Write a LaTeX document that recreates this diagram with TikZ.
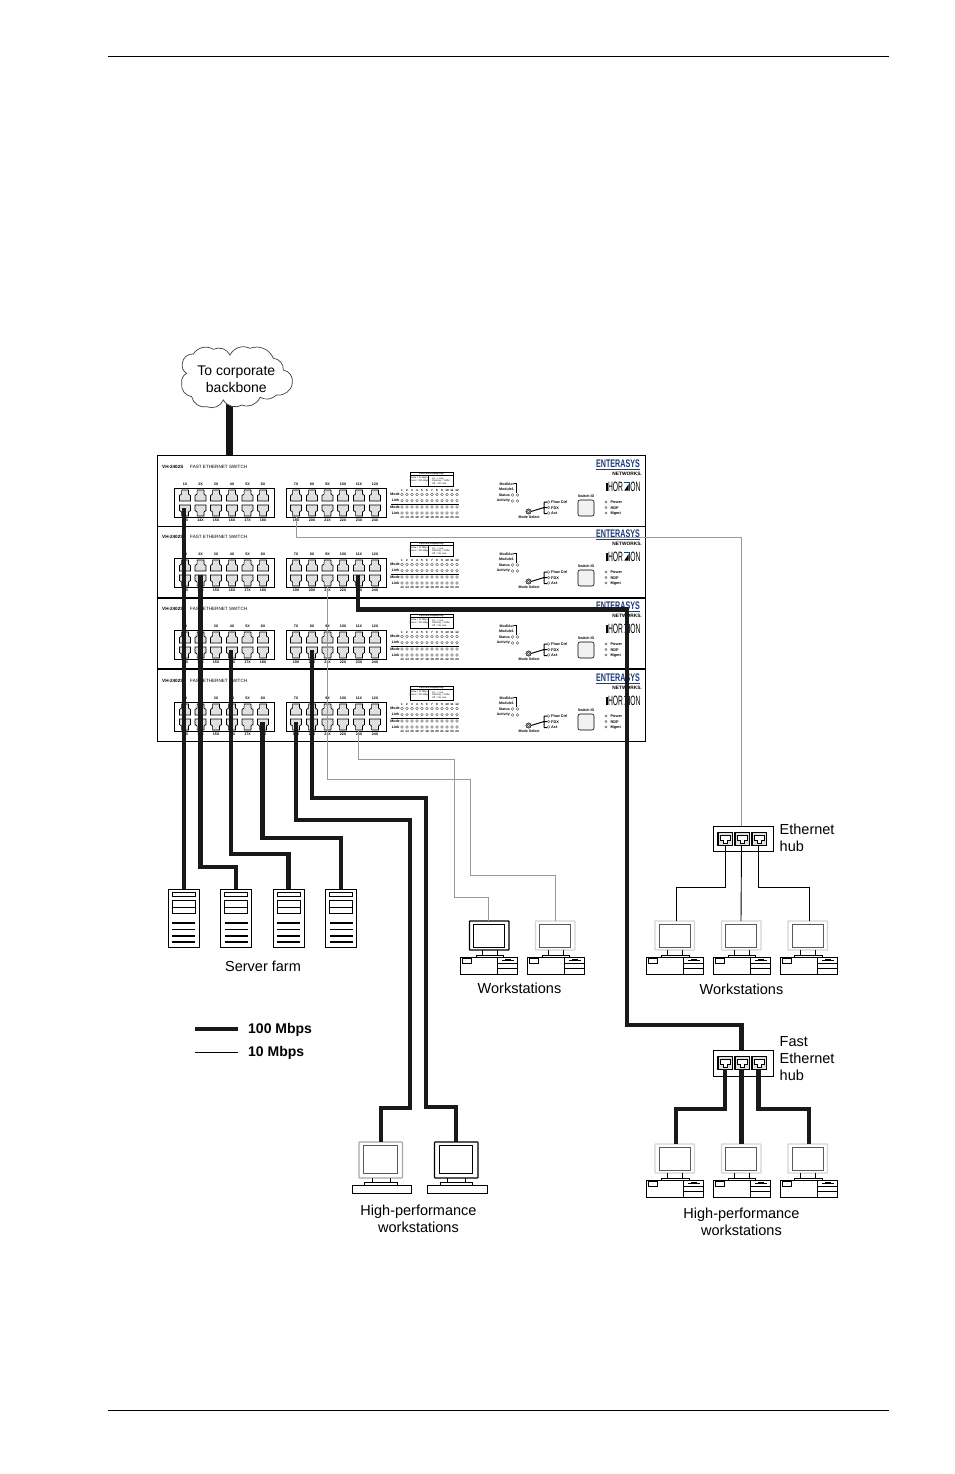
\documentclass[tikz,border=0pt]{standalone}
\usepackage{fontspec}
\setmainfont{Liberation Sans}
\definecolor{logoblue}{HTML}{1B3A7A}
\definecolor{portgrey}{HTML}{E0E0E0}
\definecolor{linkgrey}{HTML}{9A9A9A}
\definecolor{palegrey}{HTML}{D4D4D4}
\tikzset{
  fast/.style={line width=4.4pt,black!90,line join=miter},
  slow/.style={line width=0.9pt,black},
  faint/.style={line width=0.9pt,linkgrey},
  caption/.style={inner sep=0pt,font=\fontsize{14.5}{17}\selectfont,align=center},
  legendtext/.style={inner sep=0pt,anchor=west,font=\fontsize{14}{16}\bfseries\selectfont},
  tiny/.style={inner sep=0pt,font=\fontsize{3.6}{4}\bfseries\selectfont},
  unitlabel/.style={inner sep=0pt,anchor=west,font=\fontsize{4.6}{5}\bfseries\selectfont},
  led/.style={line width=0.35pt,black!70,fill=white},
  portbody/.style={line width=0.7pt,fill=portgrey},
}
% One RJ-45 opening: #1 = centre x, #2 = top y, #3 = 1 for notch up, -1 for notch down
\newcommand{\rjport}[3]{%
  \begin{scope}[shift={(#1,#2+5.5)},yscale=#3]
    \draw[portbody] (-5.5,5.5) -- (-5.5,0) -- (-3.4,-1.5) -- (-3.4,-5.5) -- (3.4,-5.5) -- (3.4,-1.5) -- (5.5,0) -- (5.5,5.5) -- cycle;
  \end{scope}}
% One stacked switch: #1 = name, #2 = y offset of the contents
\newcommand{\switchunit}[2]{%
  \begin{scope}[shift={(0,#2)}]
    \node[unitlabel] (#1model) at (162,467) {VH-2402S};
    \node[unitlabel,font=\fontsize{4.6}{5}\selectfont] (#1title) at (190,467) {FAST ETHERNET SWITCH};
    \draw[line width=0.7pt] (174,488) rectangle (274,517) (286,488) rectangle (386,517);
    \foreach \n/\x/\lbl [count=\k] in {a/185/1X,b/200.5/2X,c/216/3X,d/232/4X,e/247.5/5X,f/263/6X,g/296/7X,h/312/8X,i/327.5/9X,j/343/10X,k/359/11X,l/375/12X}{
      \rjport{\x}{490}{1}
      \node[tiny] (#1up\n) at (\x,484.6) {\lbl};
    }
    \foreach \n/\x/\lbl in {a/185/13X,b/200.5/14X,c/216/15X,d/232/16X,e/247.5/17X,f/263/18X,g/296/19X,h/312/20X,i/327.5/21X,j/343/22X,k/359/23X,l/375/24X}{
      \rjport{\x}{505}{-1}
      \node[tiny] (#1dn\n) at (\x,520.4) {\lbl};
    }
    % key to the port indicators
    \draw[line width=0.7pt] (410,472) rectangle (453,486);
    \draw[line width=0.4pt] (410,475.5) -- (453,475.5) (428.5,475.5) -- (428.5,486);
    \node[inner sep=0pt,font=\fontsize{2.4}{3}\bfseries\selectfont] (#1keyhead) at (431.5,473.8) {Port LED Display Key};
    \node[inner sep=0pt,align=left,font=\fontsize{2.3}{2.8}\selectfont] (#1keya) at (419.2,479.5) {Yellow = 10 Mbps\\Green = 100 Mbps};
    \node[inner sep=0pt,align=left,font=\fontsize{2.3}{2.8}\selectfont] (#1keyb) at (441,481) {On \ \ = Link\\Flashing = Traffic\\Off \ = No Link};
    % indicator rows
    \node[tiny] (#1rowa) at (395,494.5) {Mode};
    \node[tiny] (#1rowb) at (395.6,500.6) {Link};
    \node[tiny] (#1rowc) at (395,507) {Mode};
    \node[tiny] (#1rowd) at (395.6,513) {Link};
    \draw[line width=0.9pt] (391,504) -- (459,504);
    \foreach \t [count=\c] in {1,...,12}{
      \pgfmathsetmacro{\xx}{397+5*\c}
      \node[inner sep=0pt,font=\fontsize{3}{4}\bfseries\selectfont] (#1top\c) at (\xx,490.6) {\t};
      \pgfmathtruncatemacro{\bt}{\t+12}
      \node[inner sep=0pt,font=\fontsize{3}{4}\bfseries\selectfont] (#1bot\c) at (\xx,517.2) {\bt};
      \foreach \yy in {494.5,500.6,507,513}{\draw[led] (\xx,\yy) circle (1.3);}
    }
    % module status block
    \node[tiny,anchor=east] (#1mact) at (514,484) {Mod/Act};
    \node[tiny,anchor=east] (#1mone) at (514,489) {Module1};
    \draw[line width=1pt] (514,483) -- (516.8,483) -- (516.8,493);
    \node[tiny,anchor=east] (#1stat) at (510,495) {Status};
    \node[tiny,anchor=east] (#1actv) at (510,501) {Activity};
    \foreach \yy in {495,501}{\draw[led] (512.5,\yy) circle (1.3) (517.5,\yy) circle (1.3);}
    % mode selector
    \draw[line width=1pt] (531,511.5) -- (544,507.5) (544,502) -- (544,513.5) (544,502) -- (547,502) (544,507.5) -- (547,507.5) (544,513.5) -- (547,513.5);
    \draw[line width=0.5pt,fill=black!30] (528.5,511.5) circle (2.6);
    \draw[led,fill=white] (528.5,511.5) circle (1.2);
    \node[tiny] (#1msel) at (529,517.5) {Mode Select};
    \foreach \yy in {502,507.5,513}{\draw[led] (548.5,\yy) circle (1.3);}
    \node[unitlabel,font=\fontsize{3.8}{4}\bfseries\selectfont] (#1flow) at (551,502) {Flow Ctrl};
    \node[unitlabel,font=\fontsize{3.8}{4}\bfseries\selectfont] (#1fdx) at (551,507.7) {FDX};
    \node[unitlabel,font=\fontsize{3.8}{4}\bfseries\selectfont] (#1act) at (551,513.2) {Act};
    % switch id window
    \node[tiny] (#1swid) at (586,496) {Switch ID};
    \draw[line width=0.6pt,rounded corners=2pt,fill=black!5] (578,500) rectangle (594,516);
    % system indicators
    \foreach \yy in {502,507.5,513}{\draw[led] (606,\yy) circle (1.2);}
    \node[unitlabel,font=\fontsize{3.8}{4}\bfseries\selectfont] (#1pwr) at (610.5,502) {Power};
    \node[unitlabel,font=\fontsize{3.8}{4}\bfseries\selectfont] (#1rdp) at (610.5,507.7) {RDP};
    \node[unitlabel,font=\fontsize{3.8}{4}\bfseries\selectfont] (#1mgt) at (610.5,513.2) {Mgmt};
    % maker and product marks
    \node[inner sep=0pt,anchor=east,xscale=.65,text=logoblue,font=\fontsize{11}{12}\bfseries\selectfont] (#1brand) at (640,464) {ENTERASYS};
    \draw[logoblue,line width=0.9pt] (596,469) -- (640,469);
    \node[inner sep=0pt,anchor=east,font=\fontsize{4.8}{5}\bfseries\selectfont] (#1net) at (642,473.4) {NETWORKS.};
    \draw[line width=0.25pt] (606,483) -- (606,491) (607,483) -- (607,491);
    \node[inner sep=0pt,anchor=west,xscale=.5,font=\fontsize{13.5}{14}\selectfont] (#1hor) at (608,487) {HOR};
    \fill[logoblue] (623.5,482.2) rectangle (629.5,491.4);
    \fill[white] (624.3,483) rectangle (628.7,490.6);
    \fill[black] (624.3,490.6) -- (628.7,490.6) -- (628.7,484) -- cycle;
    \node[inner sep=0pt,anchor=west,xscale=.5,font=\fontsize{13.5}{14}\selectfont] (#1on) at (630.2,487) {ON};
  \end{scope}}
% One server tower: #1 = left x
\newcommand{\servertower}[1]{%
  \begin{scope}[shift={(#1,889)}]
    \draw[line width=0.9pt,fill=white] (0,0) rectangle (31,58);
    \draw[line width=0.8pt] (4,3) rectangle (27,7.2);
    \draw[line width=0.8pt] (4,11.5) rectangle (27,24) (4,18) -- (27,18);
    \foreach \yy/\w in {34/1.9,40.5/1.9,47/1.9,53/2.8}{\draw[line width=\w pt] (4,\yy) -- (27,\yy);}
  \end{scope}}
% Monitor on a stand: #1 = left x, #2 = top y, #3 = frame colour, #4 = screen edge colour
\newcommand{\monitorset}[4]{%
  \begin{scope}[shift={(#1,#2)}]
    \draw[line width=1.3pt,#3,fill=white,rounded corners=0.6pt] (0,0) rectangle (39.5,29);
    \draw[line width=0.8pt,#4] (4.3,3.4) rectangle (35,26.5);
    \draw[line width=0.7pt] (12.5,29) -- (12.5,34) (27.5,29) -- (27.5,34);
    \draw[line width=0.8pt,fill=white] (6.5,34) rectangle (34,36);
  \end{scope}}
% Desktop base unit: #1 = left x, #2 = top y
\newcommand{\desktopbase}[2]{%
  \begin{scope}[shift={(#1,#2)}]
    \draw[line width=0.8pt,fill=white] (0,0) rectangle (57,17.5);
    \draw[line width=0.7pt] (2.3,1.6) rectangle (11.3,6.3);
    \draw[line width=0.7pt] (37.5,0) -- (37.5,17.5) (37.5,6.7) -- (57,6.7) (37.5,11.2) -- (57,11.2);
    \draw[line width=1pt] (42,3.7) -- (54,3.7);
    \draw[line width=0.5pt] (45,2.6) -- (51,2.6);
  \end{scope}}
% Tall monitor with flat keyboard tray: #1 = tray left x, #2 = frame colour, #3 = screen edge colour
\newcommand{\flatstation}[3]{%
  \begin{scope}[shift={(#1,1142)}]
    \draw[line width=1.1pt,#2,fill=white,rounded corners=0.6pt] (7,0) rectangle (50.5,36);
    \draw[line width=0.8pt,#3] (11.7,3.7) rectangle (45.3,31.7);
    \draw[line width=0.7pt] (20,36) -- (20,40) (38,36) -- (38,40);
    \draw[line width=0.8pt,fill=white] (12.5,40) rectangle (45,43);
    \draw[line width=0.8pt,fill=white] (0,43) rectangle (59.5,51);
  \end{scope}}
% Hub body with three jacks: #1 = top y, #2 = name, #3 = body height
\newcommand{\hubbody}[3]{%
  \begin{scope}[shift={(713,#1)}]
    \draw[line width=0.9pt,fill=white] (0.5,0) rectangle (60.5,#3);
    \foreach \x in {5,22,39}{
      \draw[line width=1.3pt,fill=portgrey] (\x,6.5) rectangle ++(14.5,13);
      \draw[line width=0.5pt,fill=white] (\x+2.5,9) -- ++(9.5,0) -- ++(0,5.5) -- ++(-2.5,0) -- ++(0,2.5) -- ++(-4.5,0) -- ++(0,-2.5) -- ++(-2.5,0) -- cycle;
    }
  \end{scope}
  \coordinate (#2a) at (725,#1+19);
  \coordinate (#2b) at (741.5,#1+19);
  \coordinate (#2c) at (758.5,#1+19);
  \coordinate (#2top) at (741.5,#1);}
\begin{document}
\begin{tikzpicture}[x=1pt,y=-1pt]
\useasboundingbox (0,0) rectangle (954,1474);
\fill[white] (0,0) rectangle (954,1474);

% page rules
\coordinate (ruleAl) at (108,56); \coordinate (ruleAr) at (889,56);
\coordinate (ruleBl) at (108,1410); \coordinate (ruleBr) at (889,1410);
\draw[line width=0.9pt] (ruleAl) -- (ruleAr);
\draw[line width=0.9pt] (ruleBl) -- (ruleBr);

% switch stack
\draw[line width=1pt,fill=white] (157.5,455) rectangle (645.5,741);
\draw[line width=0.9pt] (157.5,526.5) -- (645.5,526.5);
\draw[line width=2.2pt] (157.5,598) -- (645.5,598);
\draw[line width=1.2pt] (157.5,669) -- (645.5,669);
\switchunit{s}{0}
\switchunit{t}{70}
\switchunit{u}{142}
\switchunit{v}{214}

% uplink and the cloud it rises into
\coordinate (uplinkTop) at (229.5,403);
\coordinate (uplink) at (229.5,455);
\draw[line width=6.2pt,black!92] (uplinkTop) -- (uplink);
\begin{scope}[shift={(170,340)},x=0.3333pt,y=-0.3333pt]
  \draw[line width=0.7pt,black!75,fill=white]
    (37,70) to[bend left=45] (70,42) to[bend left=45] (130,28)
    to[bend left=45] (180,45) to[bend left=45] (240,25)
    to[bend left=45] (310,55) to[bend left=45] (340,90)
    to[bend left=45] (367,130) to[bend left=45] (320,165)
    to[bend left=35] (270,172) to[bend left=45] (215,195)
    to[bend left=45] (160,180) to[bend left=45] (110,200)
    to[bend left=45] (65,170) to[bend left=45] (35,130)
    to[bend left=35] (50,100) to[bend left=35] cycle;
\end{scope}
\node[caption,font=\fontsize{14}{16.6}\selectfont] (cloudtext) at (236.3,379.5) {To corporate\\backbone};

% cable end points
\coordinate (p1) at (184,508);
\coordinate (p2) at (200.5,575);
\coordinate (p3) at (231,650);
\coordinate (p4) at (262.5,722);
\coordinate (p5) at (296,722);
\coordinate (p6) at (312,650);
\coordinate (p7) at (358,575);
\coordinate (g1) at (296,516);
\coordinate (g2) at (327,585);
\coordinate (g3) at (358,729);

% servers
\servertower{168}
\servertower{220.5}
\servertower{273}
\servertower{325.5}
\coordinate (srv1) at (184,889);
\coordinate (srv2) at (236,889);
\coordinate (srv3) at (288.5,889);
\coordinate (srv4) at (341,889);
\node[caption] (srvlabel) at (263,966) {Server farm};

% workstations below the switch
\monitorset{469.5}{921}{black}{black}
\monitorset{535.5}{921}{palegrey}{black!65}
\desktopbase{460}{957}
\desktopbase{527}{957}
\coordinate (wsA) at (488,921);
\coordinate (wsB) at (555,921);
\node[caption] (wslabelA) at (519.5,988) {Workstations};

% workstations under the Ethernet hub
\foreach \x in {655,721.5,788}{\monitorset{\x}{921}{palegrey}{black!65}}
\foreach \x in {646,713,780}{\desktopbase{\x}{957}}
\coordinate (wsC) at (676,921);
\coordinate (wsD) at (741,921);
\coordinate (wsE) at (809,921);
\node[caption] (wslabelB) at (741.5,989) {Workstations};

% workstations under the Fast Ethernet hub
\foreach \x in {655,721.5,788}{\monitorset{\x}{1144}{palegrey}{black!65}}
\foreach \x in {646,713,780}{\desktopbase{\x}{1180}}
\coordinate (wsF) at (676,1144);
\coordinate (wsG) at (741.5,1144);
\coordinate (wsH) at (809,1144);
\node[caption] (wslabelC) at (741.5,1222) {High-performance\\workstations};

% high-performance workstations on their own
\flatstation{352}{black!35}{black!65}
\flatstation{427.5}{black}{black}
\coordinate (wsI) at (381,1142);
\coordinate (wsJ) at (456,1142);
\node[caption] (wslabelD) at (418.5,1219) {High-performance\\workstations};

% hubs
\hubbody{826}{eh}{25}
\hubbody{1050}{fh}{26}
\node[caption,align=left,anchor=north west] (ehlabel) at (779.5,823.5) {Ethernet\\hub};
\node[caption,align=left,anchor=north west] (fhlabel) at (779.5,1036.5) {Fast\\Ethernet\\hub};

% 10 Mbps links
\draw[faint] (g1) -- (296,537.5) -- (741,537.5) -- (741,826);
\draw[faint] (g2) -- (327,779) -- (470,779) -- (470,875) -- (555,875) -- (wsB);
\draw[faint] (g3) -- (358,759) -- (454.5,759) -- (454.5,897) -- (488,897) -- (wsA);
\draw[slow] (eha) -- (725,887) -- (676,887) -- (wsC);
\draw[slow] (ehb) -- (wsD);
\draw[slow] (ehc) -- (758.5,887) -- (809,887) -- (wsE);

% 100 Mbps links
\draw[fast] (p1) -- (srv1);
\draw[fast] (p2) -- (200.5,867) -- (236,867) -- (srv2);
\draw[fast] (p3) -- (231,854) -- (288.5,854) -- (srv3);
\draw[fast] (p4) -- (262.5,838) -- (341,838) -- (srv4);
\draw[fast] (p5) -- (296,820) -- (410,820) -- (410,1108) -- (381,1108) -- (wsI);
\draw[fast] (p6) -- (312,798) -- (426,798) -- (426,1107) -- (456,1107) -- (wsJ);
\draw[fast] (p7) -- (358,609.5) -- (627,609.5) -- (627,1025) -- (741.5,1025) -- (fhtop);
\draw[fast] (fha) -- (725,1109) -- (676,1109) -- (wsF);
\draw[fast] (fhb) -- (wsG);
\draw[fast] (fhc) -- (758.5,1109) -- (809,1109) -- (wsH);

% legend
\coordinate (legAl) at (195,1029); \coordinate (legAr) at (238,1029);
\coordinate (legBl) at (195,1052); \coordinate (legBr) at (238,1052);
\draw[fast] (legAl) -- (legAr);
\draw[slow] (legBl) -- (legBr);
\node[legendtext] (legA) at (248,1030) {100 Mbps};
\node[legendtext] (legB) at (248,1053) {10 Mbps};
\end{tikzpicture}
\end{document}
